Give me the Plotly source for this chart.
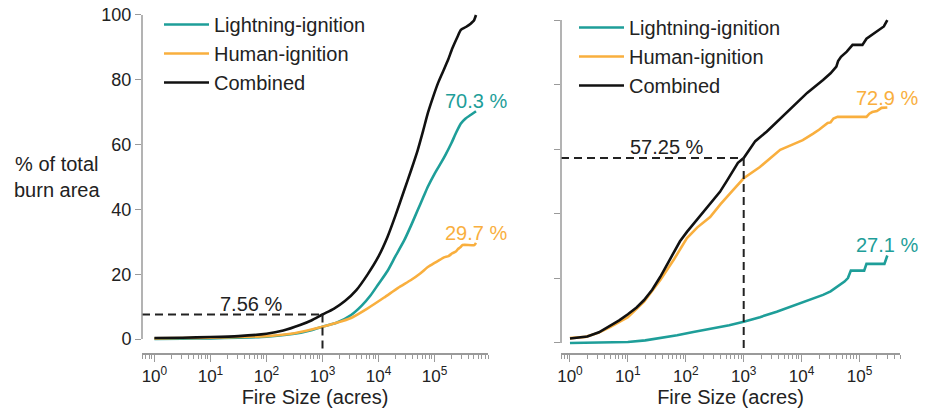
import numpy as np
import plotly.graph_objects as go

# ---------------- data (fire size given as log10(acres)) ----------------
left_light_log = [0, 0.5, 1, 1.5, 2, 2.5, 2.8, 3, 3.25, 3.51, 3.7, 3.86, 4.0, 4.16, 4.3, 4.46, 4.58, 4.7,
                  4.8, 4.88, 5.0, 5.12, 5.2, 5.3, 5.38, 5.47, 5.55, 5.65, 5.74]
left_light = [0.0, 0.1, 0.2, 0.4, 0.7, 1.6, 2.7, 3.8, 5.0, 7.4, 10.3, 13.5, 17.0, 21.0, 25.5, 30.5, 35.0, 39.8,
              43.8, 47.0, 51.0, 54.5, 57.0, 60.4, 63.5, 66.5, 68.0, 69.2, 70.3]

left_human_log = [0, 0.5, 1, 1.5, 2, 2.5, 3, 3.25, 3.51, 3.8, 4.1, 4.35, 4.58, 4.75, 4.88, 5.0, 5.1, 5.17,
                  5.25, 5.32, 5.38, 5.42, 5.46, 5.5, 5.71, 5.74]
left_human = [0.2, 0.3, 0.4, 0.6, 0.9, 1.8, 3.8, 5.0, 6.5, 9.4, 12.8, 15.8, 18.2, 20.3, 22.2, 23.5, 24.5, 25.2,
              25.6, 26.5, 27.0, 27.8, 28.3, 29.0, 29.0, 29.7]

left_comb_log = [0, 0.5, 1, 1.5, 2, 2.3, 2.6, 2.8, 3, 3.2, 3.4, 3.6, 3.8, 4.0, 4.16, 4.3, 4.46, 4.58, 4.7,
                 4.8, 4.88, 4.97, 5.06, 5.15, 5.24, 5.32, 5.41, 5.47, 5.56, 5.65, 5.7, 5.74]
left_comb = [0.3, 0.4, 0.6, 0.9, 1.6, 2.6, 4.3, 5.7, 7.56, 9.3, 11.7, 15.0, 19.8, 25.5, 31.5, 38.0, 46.0, 52.0,
             58.3, 64.5, 69.7, 74.5, 78.9, 82.5, 86.1, 89.8, 93.3, 95.4, 96.3, 97.4, 98.2, 100.0]

right_light_log = [0, 0.5, 1.0, 1.3, 1.56, 1.85, 2.13, 2.5, 2.75, 3.0, 3.28, 3.57, 3.8, 4.02, 4.2, 4.37, 4.5,
                   4.66, 4.74, 4.8, 4.85, 5.08, 5.12, 5.43, 5.48]
right_light = [0.0, 0.1, 0.3, 0.8, 1.5, 2.4, 3.4, 4.6, 5.5, 6.6, 8.0, 9.7, 11.2, 12.8, 14.0, 14.9, 16.0,
               18.0, 19.0, 20.1, 22.4, 22.4, 24.5, 24.5, 27.1]

right_human_log = [0, 0.27, 0.5, 0.7, 1.0, 1.28, 1.56, 1.8, 2.02, 2.2, 2.42, 2.6, 2.8, 3.0, 3.28, 3.45, 3.63,
                   3.85, 4.02, 4.2, 4.3, 4.45, 4.5, 4.55, 4.62, 5.12, 5.17, 5.22, 5.3, 5.38, 5.48]
right_human = [1.5, 1.9, 3.2, 5.0, 8.0, 12.8, 19.5, 26.0, 32.5, 35.8, 39.0, 43.0, 47.0, 51.0, 54.5, 57.0, 59.8,
               61.5, 62.8, 64.8, 66.0, 68.1, 68.3, 69.5, 70.0, 70.0, 71.0, 71.5, 71.8, 72.8, 72.9]

right_comb_log = [0, 0.3, 0.5, 0.7, 0.85, 1.0, 1.15, 1.28, 1.42, 1.56, 1.68, 1.79, 1.9, 2.02, 2.15, 2.31, 2.45,
                  2.59, 2.72, 2.82, 2.9, 3.0, 3.2, 3.4, 3.63, 3.85, 4.1, 4.37, 4.5, 4.6, 4.63, 4.68, 4.78,
                  4.88, 5.05, 5.12, 5.22, 5.3, 5.38, 5.42, 5.48]
right_comb = [1.4, 2.0, 3.3, 5.4, 7.0, 8.9, 11.0, 13.3, 16.5, 20.5, 24.5, 27.9, 31.5, 34.4, 37.2, 40.6, 43.5,
              46.8, 50.5, 53.6, 55.8, 57.25, 62.5, 65.5, 69.5, 73.2, 77.5, 81.4, 83.5, 85.6, 87.3, 88.6, 90.2,
              92.3, 92.3, 94.2, 95.4, 96.6, 97.3, 98.0, 100.0]

threshold_acres = 1000
left_at_threshold = 7.56
right_at_threshold = 57.25

series_names = ["Lightning-ignition", "Human-ignition", "Combined"]
x_tick_vals = [1, 10, 100, 1000, 10000, 100000]
x_tick_text = ["10<sup>0</sup>", "10<sup>1</sup>", "10<sup>2</sup>", "10<sup>3</sup>", "10<sup>4</sup>", "10<sup>5</sup>"]
y_tick_vals = [0, 20, 40, 60, 80, 100]

# ---------------- styling ----------------
TEAL = "#1E9E99"
ORANGE = "#F9AF3E"
BLACK = "#111111"
GRAY = "#9a9a9a"
FONT = "Liberation Sans, Arial, sans-serif"
OFF = 8                      # page body margin
W, H = 927 - OFF, 412 - OFF

def fx(px):
    return (px - OFF) / W

def fy(py):
    return 1 - (py - OFF) / H

L_XR = [np.log10(0.6), np.log10(9e5)]
R_XR = [np.log10(0.7), np.log10(5e5)]
L_YR = [-4.32, 101.54]
R_YR = [-3.10, 103.1]

fig = go.Figure()

def add_line(logs, vals, color, name, xa, ya, legend, smooth):
    fig.add_trace(go.Scatter(
        x=[10 ** v for v in logs], y=vals, mode="lines", name=name,
        line=dict(color=color, width=2.6, shape="spline" if smooth else "linear", smoothing=0.6),
        xaxis=xa, yaxis=ya, legend=legend, hoverinfo="skip"))

add_line(left_light_log, left_light, TEAL, series_names[0], "x", "y", "legend", True)
add_line(left_human_log, left_human, ORANGE, series_names[1], "x", "y", "legend", True)
add_line(left_comb_log, left_comb, BLACK, series_names[2], "x", "y", "legend", True)
add_line(right_light_log, right_light, TEAL, series_names[0], "x2", "y2", "legend2", False)
add_line(right_human_log, right_human, ORANGE, series_names[1], "x2", "y2", "legend2", False)
add_line(right_comb_log, right_comb, BLACK, series_names[2], "x2", "y2", "legend2", False)

dash = dict(color="#222222", width=2, dash="8px,5px")
for xa, ya, xr, yr, val in [("x", "y", L_XR, L_YR, left_at_threshold),
                            ("x2", "y2", R_XR, R_YR, right_at_threshold)]:
    fig.add_trace(go.Scatter(x=[10 ** xr[0], threshold_acres], y=[val, val], mode="lines",
                             line=dash, xaxis=xa, yaxis=ya, showlegend=False, hoverinfo="skip"))
    fig.add_trace(go.Scatter(x=[threshold_acres, threshold_acres], y=[val, yr[0]], mode="lines",
                             line=dash, xaxis=xa, yaxis=ya, showlegend=False, hoverinfo="skip"))

xcommon = dict(type="log", showline=True, linecolor=GRAY, linewidth=1.5, ticks="outside",
               ticklen=7, tickwidth=1.3, tickcolor=GRAY, tickmode="array", tickvals=x_tick_vals,
               ticktext=x_tick_text, showgrid=False, zeroline=False, ticklabeloverflow="allow",
               tickfont=dict(family=FONT, size=17, color="#222"),
               minor=dict(ticks="outside", ticklen=4, tickwidth=1, tickcolor=GRAY, dtick="D1", showgrid=False),
               title=dict(text="Fire Size (acres)", font=dict(family=FONT, size=20, color="#222"), standoff=2),
               automargin=False)
ycommon = dict(showline=False, ticks="outside", ticklen=6, tickwidth=1.3, tickcolor=GRAY,
               tickmode="array", tickvals=y_tick_vals, showgrid=False, zeroline=False,
               ticklabeloverflow="allow",
               tickfont=dict(family=FONT, size=18, color="#222"), automargin=False)

ydom = [fy(353), fy(10)]
legend_font = dict(family=FONT, size=20, color="#222")
fig.update_layout(
    width=W, height=H, margin=dict(l=0, r=0, t=0, b=0, autoexpand=False),
    paper_bgcolor="white", plot_bgcolor="white",
    font=dict(family=FONT, color="#222"),
    xaxis=dict(domain=[fx(142), fx(488)], range=L_XR, anchor="y", **xcommon),
    yaxis=dict(domain=ydom, range=L_YR, anchor="x", showticklabels=True, **ycommon),
    xaxis2=dict(domain=[fx(561), fx(900)], range=R_XR, anchor="y2", **xcommon),
    yaxis2=dict(domain=ydom, range=R_YR, anchor="x2", showticklabels=False, **ycommon),
    legend=dict(x=fx(159), y=fy(5), xanchor="left", yanchor="top", bgcolor="rgba(0,0,0,0)",
                font=legend_font, tracegroupgap=0, itemwidth=45),
    legend2=dict(x=fx(574), y=fy(8), xanchor="left", yanchor="top", bgcolor="rgba(0,0,0,0)",
                 font=legend_font, tracegroupgap=0, itemwidth=45),
    showlegend=True,
)

# y-axis lines spanning only 0..100
for xr, yr in [("x domain", "y"), ("x2 domain", "y2")]:
    fig.add_shape(type="line", xref=xr, yref=yr, x0=0, x1=0, y0=0, y1=100,
                  line=dict(color=GRAY, width=1.5))

def ann_font(c):
    return dict(family=FONT, size=20, color=c)

for xa, ya, logs, vals, c in [("x", "y", left_light_log, left_light, TEAL),
                              ("x", "y", left_human_log, left_human, ORANGE),
                              ("x2", "y2", right_light_log, right_light, TEAL),
                              ("x2", "y2", right_human_log, right_human, ORANGE)]:
    fig.add_annotation(x=logs[-1], y=vals[-1], xref=xa, yref=ya, text=f"{vals[-1]:.1f} %",
                       showarrow=False, xanchor="center", yanchor="bottom", yshift=-3, font=ann_font(c))

fig.add_annotation(x=1.72, y=left_at_threshold, xref="x", yref="y", text=f"{left_at_threshold:.2f} %",
                   showarrow=False, xanchor="center", yanchor="bottom", yshift=-2, font=ann_font("#222"))
fig.add_annotation(x=1.68, y=right_at_threshold, xref="x2", yref="y2", text=f"{right_at_threshold:.2f} %",
                   showarrow=False, xanchor="center", yanchor="bottom", yshift=-2, font=ann_font("#222"))

fig.add_annotation(x=fx(57), y=fy(177), xref="paper", yref="paper",
                   text="% of total<br>burn area", showarrow=False, xanchor="center", yanchor="middle",
                   font=ann_font("#222"))

fig.write_html("out.html")
